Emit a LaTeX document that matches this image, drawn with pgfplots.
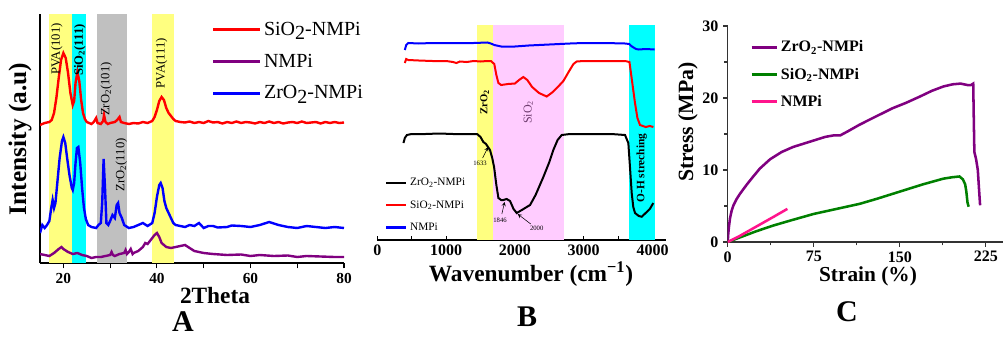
\documentclass[border=0pt]{standalone}
\usepackage{fontspec}
\setmainfont{Liberation Serif}
\usepackage{pgfplots}
\pgfplotsset{compat=1.18}
\definecolor{bandyellow}{RGB}{255,255,128}
\definecolor{bandcyan}{RGB}{0,255,255}
\definecolor{bandgray}{RGB}{192,192,192}
\definecolor{bandpink}{RGB}{255,204,255}
\definecolor{myred}{RGB}{255,0,0}
\definecolor{mypurple}{RGB}{128,0,128}
\definecolor{myblue}{RGB}{0,0,255}
\definecolor{mygreen}{RGB}{0,128,0}
\definecolor{mypink}{RGB}{255,20,140}
\definecolor{siotext}{RGB}{110,60,110}
\newcommand\legA{\fontsize{15}{16}\selectfont}
\begin{document}
\begin{tikzpicture}
\begin{scope}[x=0.75pt,y=0.75pt]
\useasboundingbox (0,0) rectangle (1005,337);
\end{scope}
% ---------------- Panel A ----------------
\begin{axis}[at={(30pt,55.5pt)}, anchor=south west, scale only axis,
  width=228pt, height=186.75pt,
  xmin=15, xmax=80, ymin=0, ymax=249,
  axis x line=bottom, axis y line=left,
  axis line style={-, line width=0.8pt},
  ytick=\empty, xtick={20,40,60,80}, minor xtick={30,50,70},
  tick align=outside, major tick length=4pt, minor tick length=4pt,
  tick style={line width=0.8pt, black},
  /pgf/number format/assume math mode=true,
  ticklabel style={font=\fontsize{11.5}{12}\selectfont\bfseries},
  legend style={at={(0.565,0.98)}, anchor=north west, draw=none, fill=none,
    inner sep=0pt, row sep=8.5pt, font=\legA},
  legend cell align=left,
  legend image code/.code={\draw[#1, line width=2pt] (0pt,0pt) -- (35pt,0pt);},
]
\addplot[draw=none, fill=bandyellow, forget plot] coordinates {(17,0) (17,249) (21.9,249) (21.9,0)} --cycle;
\addplot[draw=none, fill=bandcyan, forget plot] coordinates {(21.9,0) (21.9,249) (24.9,249) (24.9,0)} --cycle;
\addplot[draw=none, fill=bandgray, forget plot] coordinates {(27.2,0) (27.2,249) (33.5,249) (33.5,0)} --cycle;
\addplot[draw=none, fill=bandyellow, forget plot] coordinates {(38.9,0) (38.9,249) (43.7,249) (43.7,0)} --cycle;
\addplot[myred, line width=1.8pt] coordinates {
(15,138) (16,140) (17,141) (17.5,143) (18,150) (18.5,165) (19,185) (19.5,203) (20,210) (20.5,205) (21,190) (21.5,170) (22,158) (22.3,162) (22.6,180) (23,191) (23.4,182) (23.8,163) (24.2,150) (24.6,144) (25,141) (25.5,140) (26,139) (26.5,141) (27,145) (27.3,140) (28,139) (28.5,142) (28.7,148) (29,141) (29.5,139) (30,140) (31,141) (31.5,143) (32,146) (32.3,141) (33,140) (34,139) (35,140) (36,139.5) (37,141) (38,140) (39,142) (39.5,146) (40,153) (40.5,162) (41,166) (41.5,163) (42,155) (42.5,150) (43,147) (43.5,144) (44,142) (45,141) (46,140.5) (47,141.5) (48,140) (49,141) (50,140) (51,142) (52,140.5) (53,141) (54,139.5) (55,141) (56,140) (57,141.5) (58,140) (59,141) (60,140.5) (61,139.5) (62,141) (63,140) (64,141.5) (65,140) (66,141) (67,139.5) (68,140.5) (69,141) (70,140) (71,141.5) (72,140) (73,140.5) (74,141) (75,139.5) (76,141) (77,140) (78,141) (79,140) (80,140.5)};
\addlegendentry{\legA SiO\raisebox{-0.45ex}{2}-NMPi}
\addplot[mypurple, line width=1.8pt] coordinates {
(15,9) (16,8) (17,7) (18,10) (19,14) (19.6,16) (20,14) (21,11) (22,9) (23,10) (24,8) (25,7) (26,5) (27,6) (28,6) (29,7) (30,8) (30.3,11) (30.6,8) (31,7) (32,9) (33,10) (33.3,13) (33.6,9) (34,11) (34.4,14) (34.8,9) (35,10) (36,12) (37,16) (37.5,20) (38,19) (38.5,22) (39,25) (39.5,28) (40,30) (40.5,26) (41,20) (42,16) (43,15) (44,16) (45,17) (46,18) (47,15) (48,12) (50,10) (52,9) (55,8) (58,8.5) (60,7) (62,8) (65,7) (68,7.5) (70,6) (72,7) (75,6.5) (78,6) (80,6)};
\addlegendentry{\legA NMPi}
\addplot[myblue, line width=1.8pt] coordinates {
(15,30) (15.5,38) (16,35) (16.5,38) (17,42) (17.4,55) (17.7,63) (18,55) (18.3,60) (18.7,80) (19.2,105) (19.7,122) (20,126) (20.4,120) (20.8,105) (21.3,88) (21.8,75) (22,73) (22.3,80) (22.6,100) (22.9,115) (23.2,116) (23.6,100) (24,75) (24.4,55) (24.8,44) (25.3,38) (26,36) (27,35) (27.5,38) (28,40) (28.3,60) (28.6,104) (28.9,75) (29.2,40) (29.6,38) (30,42) (30.5,48) (31,45) (31.4,58) (31.7,60) (32,50) (32.5,45) (33,38) (34,35) (35,36) (36,38) (37,40) (38,37) (39,40) (39.5,50) (40,66) (40.5,78) (40.8,80) (41.2,75) (41.6,62) (42,55) (42.5,50) (43,45) (43.5,40) (44,38) (45,37) (46,36) (47,38) (48,37) (49,40) (50,35) (51,37) (52,37) (53,35.5) (55,36) (56,37.5) (58,37) (60,36) (62,38) (64,41) (66,38) (68,36) (70,35) (72,37) (74,36) (76,35) (78,36) (80,35)};
\addlegendentry{\legA ZrO\raisebox{-0.45ex}{2}-NMPi}
\node[rotate=90, font=\fontsize{9.5}{10}\selectfont] at (axis cs:18.6,214) {PVA(101)};
\node[rotate=90, font=\fontsize{9.5}{10}\selectfont\bfseries] at (axis cs:23.5,213) {SiO\textsubscript{2}(111)};
\node[rotate=90, font=\fontsize{9.5}{10}\selectfont] at (axis cs:29.2,174) {ZrO\textsubscript{2}(101)};
\node[rotate=90, font=\fontsize{9.5}{10}\selectfont] at (axis cs:32.4,98) {ZrO\textsubscript{2}(110)};
\node[rotate=90, font=\fontsize{9.5}{10}\selectfont] at (axis cs:41.0,200) {PVA(111)};
\end{axis}
% ---------------- Panel B ----------------
\begin{axis}[at={(282.98pt,72.75pt)}, anchor=south west, scale only axis,
  width=216.75pt, height=161.25pt,
  xmin=0, xmax=4200, ymin=0, ymax=215,
  axis x line=bottom, axis y line=none,
  axis line style={-, line width=0.8pt},
  ytick=\empty, xtick={0,1000,2000,3000,4000}, minor xtick={500,1500,2500,3500},
  tick align=inside, major tick length=3pt, minor tick length=3pt,
  tick style={line width=0.8pt, black},
  /pgf/number format/assume math mode=true,
  /pgf/number format/1000 sep={},
  ticklabel style={font=\fontsize{12}{13}\selectfont\bfseries},
  legend style={at={(0.027,0.30)}, anchor=north west, draw=none, fill=none,
    inner sep=0pt, row sep=5.5pt, font=\fontsize{8.5}{9}\selectfont},
  legend cell align=left,
  legend image code/.code={\draw[#1, line width=1.6pt] (0pt,0pt) -- (15pt,0pt);},
]
\addplot[draw=none, fill=bandyellow, forget plot] coordinates {(1445,0) (1445,215) (1687,215) (1687,0)} --cycle;
\addplot[draw=none, fill=bandpink, forget plot] coordinates {(1687,0) (1687,215) (2714,215) (2714,0)} --cycle;
\addplot[draw=none, fill=bandcyan, forget plot] coordinates {(3664,0) (3664,215) (4037,215) (4037,0)} --cycle;
\addplot[black, line width=1.5pt] coordinates {
(380,97) (400,102) (430,105) (500,106) (700,106) (900,106.5) (1100,106) (1300,106) (1450,106) (1500,103) (1541,98) (1580,96) (1638,90) (1670,82) (1697,73) (1730,55) (1760,42) (1800,40) (1832,40) (1880,41) (1929,39) (1980,31) (2026,27) (2100,30) (2220,35) (2300,45) (2413,63) (2500,78) (2558,90) (2620,100) (2680,105) (2800,106) (3000,106) (3200,106) (3400,106) (3600,105) (3648,97) (3670,75) (3697,47) (3720,33) (3745,27) (3800,24) (3842,23.3) (3900,27) (3960,31) (4011,37)};
\addlegendentry{ZrO\textsubscript{2}-NMPi}
\addplot[myred, line width=1.5pt] coordinates {
(400,177) (420,181) (450,180) (600,179.5) (800,179) (1000,179) (1100,178) (1150,177) (1200,178.5) (1300,178) (1400,179) (1500,178.5) (1600,179) (1650,179) (1700,176) (1730,165) (1760,157) (1800,155) (1900,156) (2000,156.5) (2060,160) (2122,163) (2180,160) (2250,153) (2350,147) (2462,143.5) (2550,148) (2650,155) (2704,159) (2780,168) (2850,176) (2898,178.5) (3000,179) (3200,179) (3400,179) (3600,179) (3664,178) (3700,160) (3745,137) (3780,122) (3818,115) (3900,113) (3960,114) (4012,113)};
\addlegendentry{SiO\textsubscript{2}-NMPi}
\addplot[myblue, line width=1.5pt] coordinates {
(400,190) (420,195) (450,197) (600,196.5) (800,197) (1000,197) (1200,197) (1400,197) (1600,197.5) (1650,196.5) (1700,195) (1800,193.5) (2000,193.5) (2200,194.5) (2500,195.5) (2800,196.5) (3000,197) (3300,197) (3600,196.5) (3660,196) (3700,193.5) (3760,191) (3800,190.5) (3900,191) (4030,190.5)};
\addlegendentry{NMPi}
\node[rotate=90, font=\fontsize{8}{9}\selectfont\bfseries] at (axis cs:1560,138) {ZrO\textsubscript{2}};
\node[rotate=90, font=\fontsize{9}{10}\selectfont, text=siotext] at (axis cs:2195,128) {SiO\textsubscript{2}};
\node[rotate=90, font=\fontsize{8.5}{9}\selectfont\bfseries] at (axis cs:3843,72) {O-H streching};
\node[font=\fontsize{5}{6}\selectfont] at (axis cs:1493,77) {1633};
\node[font=\fontsize{5}{6}\selectfont] at (axis cs:1783,20) {1846};
\node[font=\fontsize{5}{6}\selectfont] at (axis cs:2317,12) {2000};
\draw[-stealth, line width=0.4pt] (axis cs:1530,82) -- (axis cs:1610,93);
\draw[-stealth, line width=0.4pt] (axis cs:1810,26) -- (axis cs:1850,38);
\draw[-stealth, line width=0.4pt] (axis cs:2230,16) -- (axis cs:2040,26);
\end{axis}
% ---------------- Panel C ----------------
\begin{axis}[at={(545.78pt,71.25pt)}, anchor=south west, scale only axis,
  width=206.5pt, height=162pt,
  xmin=0, xmax=240, ymin=0, ymax=30,
  axis x line=bottom, axis y line=left,
  axis line style={-, line width=0.8pt, black!80},
  xtick={0,75,150,225}, minor xtick={37.5,112.5,187.5},
  ytick={0,10,20,30}, minor ytick={5,15,25},
  tick align=outside, major tick length=3.5pt, minor tick length=2.5pt,
  tick style={line width=0.8pt, black!80},
  /pgf/number format/assume math mode=true,
  ticklabel style={font=\fontsize{12}{13}\selectfont\bfseries},
  legend style={at={(0.081,0.945)}, anchor=north west, draw=none, fill=none,
    inner sep=0pt, row sep=6.5pt, font=\fontsize{12}{13}\selectfont\bfseries},
  legend cell align=left,
  legend image code/.code={\draw[#1, line width=2pt] (0pt,0pt) -- (19pt,0pt);},
]
\addplot[mypurple, line width=1.9pt] coordinates {
(0,0) (0.5,1.2) (1,2) (2,3.3) (3.5,4.4) (5,5.1) (7.5,5.9) (10.7,6.7) (16.5,7.95) (22,9.05) (28,10.2) (37,11.5) (47,12.5) (57,13.2) (67,13.7) (75,14.1) (85,14.6) (92,14.8) (98,14.8) (105,15.4) (115,16.3) (130,17.5) (144,18.6) (155,19.3) (167.5,20.2) (178,21.0) (188,21.6) (196,21.9) (203,22.0) (209,21.8) (212,21.8) (214,22) (214.5,17) (215,12.5) (216.5,11.5) (218,10) (219,7.5) (220,5.1)};
\addlegendentry{ZrO\textsubscript{2}-NMPi}
\addplot[mygreen, line width=1.9pt] coordinates {
(0,0) (10,0.6) (25,1.5) (40,2.3) (55,3.0) (75,3.9) (95,4.6) (115,5.3) (130,6.0) (150,7.0) (170,8.0) (188,8.8) (196,9.0) (202,9.1) (205,8.7) (207,8.0) (208,7) (209,5.5) (210,4.9)};
\addlegendentry{SiO\textsubscript{2}-NMPi}
\addplot[mypink, line width=1.9pt] coordinates {
(0,0) (10,0.8) (20,1.7) (30,2.6) (40,3.5) (52,4.6)};
\addlegendentry{NMPi}
\end{axis}
% ---------------- Labels ----------------
\begin{scope}[x=0.75pt,y=0.75pt]
\node[rotate=90, font=\fontsize{19}{20}\selectfont\bfseries] at (20,198) {Intensity (a.u)};
\node[anchor=base, font=\fontsize{17.5}{18}\selectfont\bfseries] at (215,33.7) {2Theta};
\node[anchor=base, inner sep=0pt, font=\fontsize{22.5}{23}\selectfont\bfseries] at (183,5.5) {A};
\node[anchor=base, font=\fontsize{17.5}{18}\selectfont\bfseries] at (531,56) {Wavenumber (cm\textsuperscript{−1})};
\node[anchor=base, inner sep=0pt, font=\fontsize{22.5}{23}\selectfont\bfseries] at (527,10.3) {B};
\node[rotate=90, font=\fontsize{16.3}{17}\selectfont\bfseries] at (688,215) {Stress (MPa)};
\node[anchor=base, font=\fontsize{16}{17}\selectfont\bfseries] at (868,55.3) {Strain (\%)};
\node[anchor=base, inner sep=0pt, font=\fontsize{22.5}{23}\selectfont\bfseries] at (847,15.3) {C};
\end{scope}
\end{tikzpicture}
\end{document}
